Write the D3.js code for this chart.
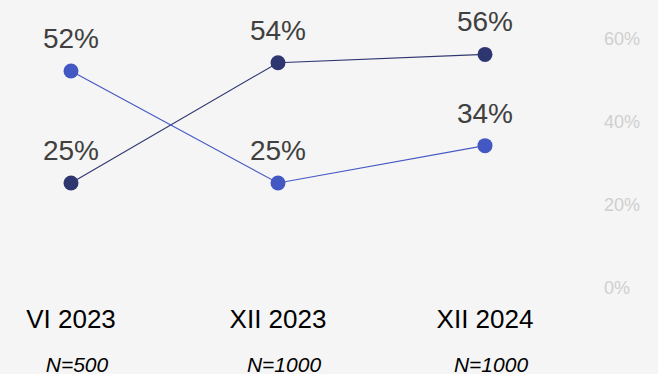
<!DOCTYPE html>
<html>
<head>
<meta charset="utf-8">
<script src="https://cdn.jsdelivr.net/npm/d3@7"></script>
<style>
  html, body { margin: 0; padding: 0; background: #f5f5f5; }
  svg { display: block; font-family: Arial, "Liberation Sans", sans-serif; }
</style>
</head>
<body>
<div class="chart"></div>
<script>
var values = { width: 658, height: 374 };

// categories, sample sizes and the two series
var categories = ["VI 2023", "XII 2023", "XII 2024"];
var sampleSizes = ["N=500", "N=1000", "N=1000"];
var seriesDark = [25, 54, 56];
var seriesBlue = [52, 25, 34];
var yTicks = [0, 20, 40, 60];

var series = [
  { name: "dark", color: "#2e3670", values: seriesDark },
  { name: "blue", color: "#4458c4", values: seriesBlue }
];

var x = d3.scalePoint()
  .domain(categories)
  .range([71, 485]);

var y = d3.scaleLinear()
  .domain([0, 60])
  .range([286.7, 37.8]);

var svg = d3.select('.chart')
  .append('svg')
  .attr("width", values.width)
  .attr("height", values.height);

svg.append("rect")
  .attr("width", values.width)
  .attr("height", values.height)
  .attr("fill", "#f5f5f5");

// right side axis, labels only
var yAxis = d3.axisRight(y)
  .tickValues(yTicks)
  .tickSize(0)
  .tickPadding(0)
  .tickFormat(d => d + "%");

var gy = svg.append("g")
  .attr("class", "y_axis")
  .attr("transform", "translate(604,0)")
  .call(yAxis);
gy.select(".domain").remove();
gy.selectAll("text")
  .attr("x", 0)
  .attr("dy", "0.35em")
  .style("font-size", "18px")
  .style("font-family", "Arial, 'Liberation Sans', sans-serif")
  .attr("fill", "#cfcfcf");

var line = d3.line()
  .x((d, i) => x(categories[i]))
  .y(d => y(d));

series.forEach(s => {
  svg.append("path")
    .datum(s.values)
    .attr("fill", "none")
    .attr("stroke", s.color)
    .attr("stroke-width", 1.1)
    .attr("d", line);
});

series.forEach(s => {
  var g = svg.append("g").attr("class", "series-" + s.name);
  g.selectAll("circle")
    .data(s.values)
    .enter()
    .append("circle")
    .attr("cx", (d, i) => x(categories[i]))
    .attr("cy", d => y(d))
    .attr("r", 7.5)
    .attr("fill", s.color);

  g.selectAll("text")
    .data(s.values)
    .enter()
    .append("text")
    .attr("x", (d, i) => x(categories[i]))
    .attr("y", d => y(d) - 23)
    .attr("text-anchor", "middle")
    .style("font-size", "28px")
    .attr("fill", "#404040")
    .text(d => d + "%");
});

// category labels
svg.selectAll(".cat")
  .data(categories)
  .enter()
  .append("text")
  .attr("class", "cat")
  .attr("x", d => x(d))
  .attr("y", 328.3)
  .attr("text-anchor", "middle")
  .style("font-size", "26px")
  .attr("fill", "#000")
  .text(d => d);

// sample size labels
svg.selectAll(".nsize")
  .data(sampleSizes)
  .enter()
  .append("text")
  .attr("class", "nsize")
  .attr("x", (d, i) => x(categories[i]) + 6)
  .attr("y", 371.5)
  .attr("text-anchor", "middle")
  .style("font-size", "21px")
  .style("font-style", "italic")
  .attr("fill", "#000")
  .text(d => d);
</script>
</body>
</html>
